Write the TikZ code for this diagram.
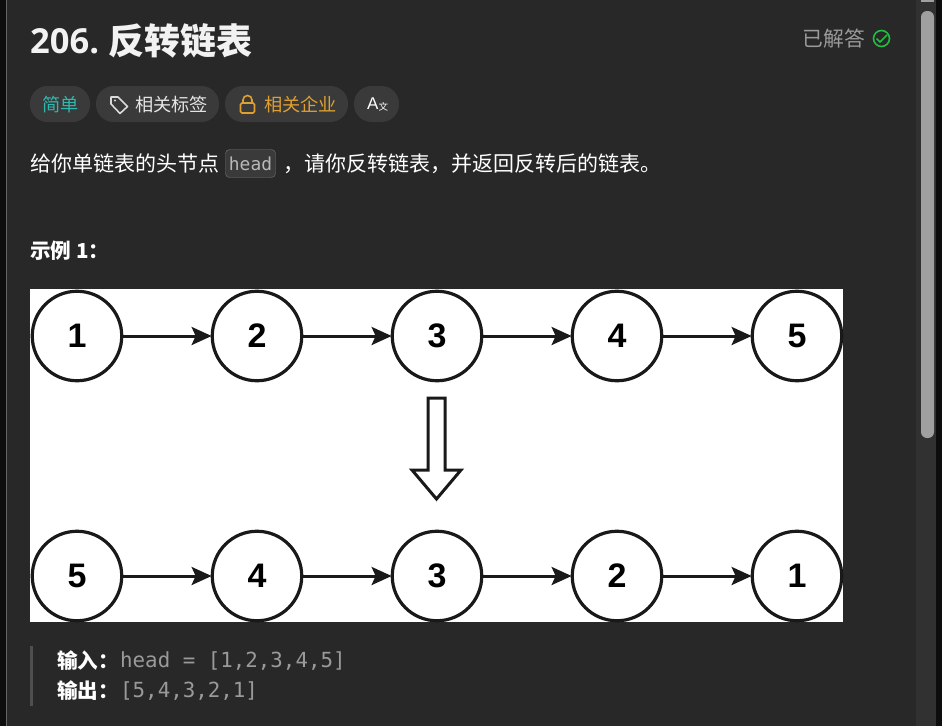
\documentclass[tikz,border=0pt]{standalone}
\usepackage{fontspec}
\setmainfont{Liberation Sans}
\newfontfamily\cjk{Noto Sans CJK SC}
\newfontfamily\numfont{Open Sans}
\newfontfamily\codefont{DejaVu Sans Mono}
\usetikzlibrary{arrows.meta, positioning}
\definecolor{panelbg}{HTML}{282828}
\definecolor{chipbg}{HTML}{3A3A3A}
\definecolor{teal}{HTML}{2DB8B0}
\definecolor{amber}{HTML}{DFA02F}
\definecolor{okgreen}{HTML}{1FBF3F}
\definecolor{softgray}{HTML}{9A9A9A}
\definecolor{bargray}{HTML}{A0A0A0}

\begin{document}
\begin{tikzpicture}[
    x=1pt, y=-1pt,
    listnode/.style={circle, draw=black!90, line width=3.2pt, fill=white, minimum size=89.5pt, inner sep=0pt, font=\fontsize{34}{34}\selectfont\bfseries},
    arr/.style={-{Stealth[length=20pt, width=18pt, inset=4pt]}, line width=3pt, black!90, shorten <=-1pt, shorten >=-1pt},
    chip/.style={rounded corners=17.5pt, fill=chipbg, draw=none},
    chiptext/.style={anchor=west, inner sep=0pt, font=\fontsize{18.2}{20}\cjk},
    bodytext/.style={anchor=west, inner sep=0pt, text=white, font=\fontsize{21}{22}\cjk},
    codetext/.style={anchor=west, inner sep=0pt, text=softgray, font=\fontsize{20.8}{22}\codefont},
    quotehead/.style={anchor=west, inner sep=0pt, text=white, font=\fontsize{20.6}{22}\cjk\bfseries},
]
\useasboundingbox (0,0) rectangle (942,726);

% Window
\fill[black!95] (0,0) rectangle (942,726);
\fill[panelbg] (7,0) rectangle (916,726);
\fill[black!60] (6,0) rectangle (7,726);
\fill[panelbg!96!white] (916,0) rectangle (936,726);
\fill[bargray] (921,0) rectangle (934,2);
\fill[bargray, rounded corners=6pt] (921,11) rectangle (934,438);

% Title
\node[anchor=west, inner sep=0pt, text=white!95!black, font=\fontsize{34.5}{38}\numfont\bfseries] (title) at (30,41) {206.};
\node[anchor=west, inner sep=0pt, text=white!95!black, font=\fontsize{36}{38}\cjk\bfseries] (titlecjk) at (108,41) {反转链表};
\node[anchor=west, inner sep=0pt, text=softgray, font=\fontsize{20.8}{22}\cjk] (solved) at (802.5,39) {已解答};
\node[circle, draw=okgreen, line width=1.6pt, minimum size=16pt, inner sep=0pt] (okmark) at (881.5,38.5) {};
\draw[okgreen, line width=1.6pt] (876.5,38.5) -- (880,42) -- (887,35);

% Chips
\fill[chip] (30,86) rectangle (90,122);
\fill[chip] (96,86) rectangle (219,122);
\fill[chip] (225,86) rectangle (348,122);
\fill[chip] (354,86) rectangle (399,122);
\node[chiptext, text=teal] (easy) at (42,104.5) {简单};
\draw[white!85!black, line width=1.6pt, line join=round] (111,97) -- (118,97) -- (127.5,106.5) -- (120,113.5) -- (111,104) -- cycle;
\fill[white!85!black] (115,100.5) circle (1.2pt);
\node[chiptext, text=white!90!black] (tags) at (135,104.5) {相关标签};
\draw[amber, line width=1.6pt, rounded corners=1.5pt] (240.5,103) rectangle (254.5,113);
\draw[amber, line width=1.6pt] (243,103) -- (243,100) arc[start angle=180, end angle=0, radius=4.5pt] -- (252,103);
\node[chiptext, text=amber] (corp) at (264,104.5) {相关企业};
\node[anchor=west, inner sep=0pt, text=white, font=\fontsize{17}{18}\selectfont] (lang) at (367,104) {A};
\node[anchor=west, inner sep=0pt, text=white, font=\fontsize{9.5}{10}\cjk] (langcjk) at (378.5,107) {文};

% Description
\node[bodytext] (desc) at (30,164) {给你单链表的头节点};
\fill[chipbg, draw=white!30!chipbg, rounded corners=4pt] (225.5,149.5) rectangle (275.5,177.5);
\node[inner sep=0pt, text=white!72!black, font=\fontsize{17.9}{18}\codefont] (code) at (250.5,164) {head};
\node[bodytext] (desc2) at (283,164) {，请你反转链表，并返回反转后的链表。};
\node[quotehead] (sample) at (30,250.5) {示例 1：};

% Image
\fill[white] (30,289) rectangle (843,622);
\node[listnode] (a1) at (77,336) {1};
\node[listnode] (a2) at (257,336) {2};
\node[listnode] (a3) at (437,336) {3};
\node[listnode] (a4) at (617,336) {4};
\node[listnode] (a5) at (797,336) {5};
\node[listnode] (b5) at (77,576) {5};
\node[listnode] (b4) at (257,576) {4};
\node[listnode] (b3) at (437,576) {3};
\node[listnode] (b2) at (617,576) {2};
\node[listnode] (b1) at (797,576) {1};
\foreach \from/\to in {a1/a2, a2/a3, a3/a4, a4/a5, b5/b4, b4/b3, b3/b2, b2/b1}
    \draw[arr] (\from) -- (\to);

% Block arrow
\draw[black!90, line width=3pt, line join=miter] (428,398) -- (445,398) -- (445,470) -- (461,470) -- (436.5,499) -- (412,470) -- (428,470) -- cycle;

% Quote
\fill[white!18!panelbg] (30,646) rectangle (33,706);
\node[quotehead] (inlabel) at (57,661) {输入：};
\node[codetext] (inval) at (120,661) {head = [1,2,3,4,5]};
\node[quotehead] (outlabel) at (57,691) {输出：};
\node[codetext] (outval) at (120,691) {[5,4,3,2,1]};
\end{tikzpicture}
\end{document}
